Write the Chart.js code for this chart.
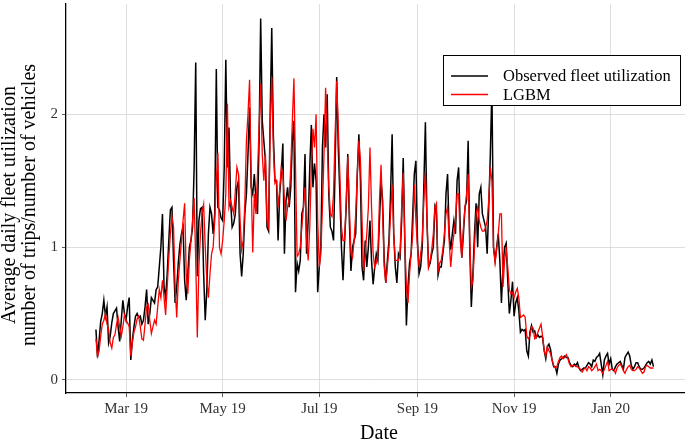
<!DOCTYPE html>
<html>
<head>
<meta charset="utf-8">
<script src="https://cdn.jsdelivr.net/npm/chart.js@4.4.1/dist/chart.umd.min.js"></script>
<style>
  html, body { margin: 0; padding: 0; background: #fff; }
</style>
</head>
<body>
<canvas id="fleetChart" width="685" height="443"></canvas>
<script>
// daily values, first day is startDate
const startDate = '2019-02-10'

const observed = [
  // Feb
  0.38,0.17,0.30,0.44,0.50,0.60,0.48,0.55,0.28,0.33,0.43,0.50,0.52,0.54,0.40,0.29,0.45,0.60,0.50,
  // Mar
  0.45,0.55,0.62,0.15,0.30,0.40,0.48,0.50,0.47,0.48,0.42,0.45,0.55,0.68,0.42,0.50,0.62,0.60,0.58,0.68,0.70,0.85,
  1.00,1.25,0.70,0.62,0.80,1.05,1.28,1.30,0.90,
  // Apr
  0.58,0.70,0.88,1.02,1.10,1.15,0.75,0.60,0.80,1.00,1.05,1.15,1.60,2.39,0.78,1.20,1.29,1.30,0.80,0.45,
  0.68,1.10,1.30,1.25,1.10,1.25,2.34,1.30,1.28,1.22,
  // May
  1.20,1.60,2.41,1.60,1.90,1.35,1.15,1.18,1.25,1.45,1.50,0.95,0.78,0.95,1.25,1.40,1.70,2.05,1.45,1.40,
  1.55,1.35,1.25,1.80,2.72,1.95,1.80,1.65,1.15,1.12,2.00,
  // Jun
  2.65,1.85,1.50,1.50,1.05,1.40,1.55,1.78,0.95,1.35,1.45,1.30,1.45,1.80,1.95,0.66,0.88,0.82,0.90,1.25,
  1.30,1.70,0.95,1.20,1.60,1.92,1.45,1.63,1.50,0.66,
  // Jul
  0.85,1.00,1.75,2.00,1.75,2.15,1.40,1.15,1.12,1.05,1.60,2.28,1.75,1.40,1.00,0.75,1.05,1.30,1.70,1.20,
  0.82,1.00,1.05,1.10,1.55,1.85,1.50,0.85,0.75,1.05,0.85,
  // Aug
  1.00,1.20,0.90,0.72,0.85,0.95,0.90,1.20,1.50,1.35,0.90,0.73,0.90,1.05,1.40,1.85,1.10,0.85,0.73,0.95,
  0.92,1.20,1.67,1.05,0.41,0.70,0.88,0.95,1.25,1.55,1.65,
  // Sep
  1.05,0.80,0.85,1.00,1.45,1.94,1.20,0.85,0.88,0.95,1.00,1.30,1.25,0.79,0.85,0.85,0.95,1.05,1.40,1.55,
  1.10,0.98,1.10,1.20,1.10,1.50,1.60,1.15,0.92,1.10,
  // Oct
  1.30,1.35,1.80,1.00,0.55,0.80,1.10,1.33,1.00,1.40,1.45,1.25,1.20,1.15,0.95,1.30,1.70,2.20,1.00,0.90,
  1.00,1.10,0.90,0.58,0.85,1.00,1.03,0.75,0.50,0.60,0.74,
  // Nov
  0.48,0.58,0.62,0.52,0.36,0.38,0.37,0.38,0.22,0.18,0.36,0.41,0.36,0.37,0.32,0.34,0.32,0.33,0.32,0.22,
  0.16,0.25,0.27,0.23,0.15,0.10,0.10,0.05,0.12,0.15,
  // Dec
  0.16,0.17,0.18,0.17,0.17,0.13,0.11,0.10,0.12,0.11,0.13,0.09,0.07,0.08,0.09,0.09,0.11,0.13,0.12,0.10,
  0.15,0.14,0.17,0.18,0.20,0.12,0.04,0.15,0.18,0.20,0.12,
  // Jan
  0.16,0.08,0.07,0.10,0.12,0.13,0.14,0.11,0.08,0.17,0.19,0.21,0.18,0.11,0.08,0.10,0.13,0.13,0.10,0.08,
  0.08,0.09,0.11,0.13,0.14,0.12,0.15,0.10
]

const lgbm = [
  // Feb
  0.31,0.18,0.22,0.33,0.42,0.45,0.50,0.42,0.38,0.28,0.24,0.32,0.34,0.42,0.47,0.40,0.33,0.40,0.49,
  // Mar
  0.45,0.43,0.40,0.18,0.28,0.36,0.40,0.46,0.48,0.40,0.31,0.30,0.42,0.55,0.57,0.45,0.35,0.40,0.45,0.42,0.55,0.68,
  0.62,0.75,0.62,0.49,0.70,0.92,1.10,1.23,1.15,
  // Apr
  0.70,0.47,0.75,0.90,1.05,1.20,1.33,0.80,0.65,0.90,1.05,1.20,1.37,0.90,0.32,0.85,1.10,1.25,1.32,1.00,
  0.75,0.62,0.80,0.95,1.00,1.20,1.50,1.71,1.00,0.95,
  // May
  1.05,1.20,1.40,2.08,1.30,1.35,1.30,1.25,1.42,1.60,1.55,1.20,0.98,1.05,1.33,1.80,2.00,2.26,1.50,0.96,
  1.40,1.25,1.55,1.90,2.23,1.70,1.50,1.70,1.20,1.15,1.90,
  // Jun
  2.28,1.75,1.48,1.50,1.30,1.43,1.60,1.55,1.35,1.20,1.30,1.37,1.60,1.95,2.27,1.60,0.93,0.95,1.00,1.15,
  1.30,1.45,1.05,0.90,1.15,1.60,1.89,1.75,2.00,1.20,
  // Jul
  0.85,0.95,1.30,1.70,2.20,1.80,1.45,1.25,1.23,1.40,1.85,2.25,1.90,1.55,1.15,1.05,1.05,1.35,1.68,1.30,
  0.95,0.92,1.05,1.25,1.55,1.80,1.65,1.20,0.82,0.95,1.10,
  // Aug
  1.30,1.75,1.30,0.95,0.85,0.88,0.95,1.35,1.62,1.25,0.85,0.73,0.85,1.00,1.25,1.47,1.10,0.90,0.90,0.90,
  0.95,1.30,1.56,1.05,0.70,0.58,0.80,0.95,1.10,1.47,1.20,
  // Sep
  1.00,0.85,0.95,1.05,1.35,1.56,1.20,0.85,0.90,0.98,1.10,1.30,1.33,0.82,0.88,0.90,0.98,1.10,1.25,1.30,
  1.05,0.85,1.00,1.10,1.20,1.40,1.40,1.05,0.92,1.15,
  // Oct
  1.30,1.40,1.55,1.05,0.70,0.75,1.00,1.25,1.30,1.20,1.15,1.12,1.12,1.15,1.20,1.35,1.60,1.50,1.00,0.88,
  0.98,1.10,1.25,1.25,0.70,0.90,0.98,0.85,0.68,0.65,0.66,
  // Nov
  0.62,0.66,0.69,0.62,0.47,0.48,0.49,0.47,0.33,0.31,0.33,0.40,0.39,0.31,0.32,0.36,0.39,0.42,0.33,0.22,
  0.18,0.25,0.22,0.20,0.15,0.11,0.09,0.10,0.14,0.17,
  // Dec
  0.18,0.16,0.17,0.19,0.16,0.12,0.10,0.11,0.11,0.10,0.10,0.09,0.08,0.06,0.08,0.09,0.07,0.10,0.09,0.07,
  0.08,0.10,0.12,0.07,0.08,0.07,0.05,0.08,0.11,0.14,0.07,
  // Jan
  0.08,0.08,0.08,0.05,0.09,0.11,0.12,0.10,0.07,0.05,0.08,0.10,0.11,0.08,0.07,0.07,0.08,0.10,0.09,0.07,
  0.05,0.06,0.10,0.11,0.10,0.09,0.09,0.09
]

const seriesNames = ['Observed fleet utilization', 'LGBM']
const seriesColors = ['#000000', '#ff0000']
const tickDates = ['2019-03-01', '2019-05-01', '2019-07-01', '2019-09-01', '2019-11-01', '2020-01-01']
const tickLabels = ['Mar 19', 'May 19', 'Jul 19', 'Sep 19', 'Nov 19', 'Jan 20']
const yTicks = [0, 1, 2]
const yTitle = ['Average daily fleet utilization', 'number of trips/number of vehicles']
const xTitle = 'Date'

// x axis is in days counted from 1 Mar 2019
const DAY = 86400000
const origin = Date.UTC(2019, 2, 1)
function dayOf(s) {
  const p = s.split('-')
  return (Date.UTC(+p[0], +p[1] - 1, +p[2]) - origin) / DAY
}
const firstDay = dayOf(startDate)
const tickDays = tickDates.map(dayOf)
const toPoints = arr => arr.map((v, i) => ({ x: firstDay + i, y: v }))

const serif = "'Liberation Serif', 'Times New Roman', serif"

// axis titles and the boxed legend, drawn over the plot
const overlay = {
  id: 'overlay',
  afterDraw(chart) {
    const c = chart.ctx
    c.save()
    c.fillStyle = '#000'
    c.textAlign = 'center'
    c.textBaseline = 'middle'
    c.font = '20px ' + serif
    c.fillText(xTitle, 379, 434)
    c.translate(0, 205)
    c.rotate(-Math.PI / 2)
    c.fillText(yTitle[0], 0, 10)
    c.fillText(yTitle[1], 0, 30)
    c.restore()

    c.save()
    c.fillStyle = '#fff'
    c.fillRect(443.5, 55.5, 237, 50)
    c.strokeStyle = '#000'
    c.lineWidth = 1
    c.strokeRect(443.5, 55.5, 237, 50)
    c.font = '16.5px ' + serif
    c.textAlign = 'left'
    c.textBaseline = 'middle'
    seriesNames.forEach((name, i) => {
      const y = 76 + i * 18.5
      c.strokeStyle = seriesColors[i]
      c.lineWidth = 1.3
      c.beginPath()
      c.moveTo(451, y)
      c.lineTo(488, y)
      c.stroke()
      c.fillStyle = '#000'
      c.fillText(name, 503, y + 1)
    })
    c.restore()
  }
}

new Chart(document.getElementById('fleetChart'), {
  type: 'line',
  data: {
    datasets: [
      { label: seriesNames[0], data: toPoints(observed), borderColor: seriesColors[0],
        borderWidth: 1.5, pointRadius: 0, tension: 0, order: 2 },
      { label: seriesNames[1], data: toPoints(lgbm), borderColor: seriesColors[1],
        borderWidth: 1.3, pointRadius: 0, tension: 0, order: 1 }
    ]
  },
  options: {
    responsive: false,
    animation: false,
    layout: { padding: { top: 4, left: 0, right: 0, bottom: 0 } },
    plugins: { legend: { display: false }, tooltip: { enabled: false } },
    scales: {
      x: {
        type: 'linear',
        min: -37.9,
        max: 352.9,
        afterBuildTicks: s => { s.ticks = tickDays.map(v => ({ value: v })) },
        afterFit: s => { s.height = 50; s.paddingLeft = 0; s.paddingRight = 0 },
        ticks: {
          callback: (v, i) => tickLabels[i],
          color: '#333',
          font: { family: serif, size: 15 },
          padding: 3,
          maxRotation: 0,
          autoSkip: false
        },
        grid: { color: '#d6d6d6', lineWidth: 0.8, tickLength: 4, tickColor: '#333' },
        border: { display: true, color: '#000', width: 1.3 }
      },
      y: {
        min: -0.098,
        max: 2.83,
        afterBuildTicks: s => { s.ticks = yTicks.map(v => ({ value: v })) },
        afterFit: s => { s.width = 66; s.paddingTop = 0; s.paddingBottom = 0 },
        ticks: {
          callback: v => String(v),
          color: '#333',
          font: { family: serif, size: 15 },
          padding: 4
        },
        grid: { color: '#d6d6d6', lineWidth: 0.8, tickLength: 4, tickColor: '#333' },
        border: { display: true, color: '#000', width: 1.3 }
      }
    }
  },
  plugins: [overlay]
})
</script>
</body>
</html>
